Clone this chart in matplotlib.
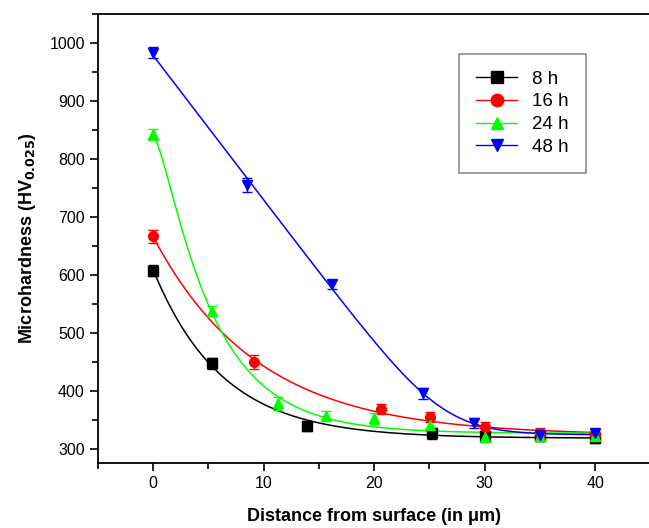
import numpy as np
import matplotlib
matplotlib.use('Agg')
import matplotlib.pyplot as plt
from matplotlib.ticker import MultipleLocator

plt.rcParams['font.family'] = ['Liberation Sans', 'DejaVu Sans']

# data
x_8h = [0, 5.3, 13.9, 25.2, 30, 35, 40]
y_8h = [608, 448, 340, 327, 322, 322, 320]
e_8h = [9, 10, 8, 10, 8, 8, 10]

x_16h = [0, 9.1, 20.6, 25.1, 30, 35, 40]
y_16h = [667, 450, 369, 355, 338, 327, 325]
e_16h = [11, 12, 9, 9, 9, 9, 8]

x_24h = [0, 5.3, 11.3, 15.6, 20, 25.1, 30, 35, 40]
y_24h = [843, 538, 379, 358, 353, 341, 321, 323, 322]
e_24h = [9, 8, 11, 8, 10, 9, 6, 6, 6]

x_48h = [0, 8.5, 16.2, 24.4, 29, 35, 40]
y_48h = [984, 755, 584, 396, 345, 324, 327]
e_48h = [9, 12, 8, 10, 9, 9, 8]

labels = ['8 h', '16 h', '24 h', '48 h']
colors = ['#000000', '#ff0000', '#00ff00', '#0000ff']
markers = ['s', 'o', '^', 'v']


def fit_exp(x, y, n=1):
    # y = a + sum b_k*exp(-x/t_k), grid search over the decay constants
    x = np.asarray(x, float); y = np.asarray(y, float)
    ts = np.linspace(1, 40, 157)
    grids = [(t,) for t in ts] if n == 1 else \
        [(t1, t2) for t1 in ts for t2 in ts if t2 > t1 * 1.5]
    best = None
    for tt in grids:
        A = np.column_stack([np.ones_like(x)] + [np.exp(-x / t) for t in tt])
        c, *_ = np.linalg.lstsq(A, y, rcond=None)
        r = np.sum((A @ c - y) ** 2)
        if best is None or r < best[0]:
            best = (r, tt, c)
    _, tt, c = best
    return lambda xx: c[0] + sum(c[k + 1] * np.exp(-xx / t) for k, t in enumerate(tt))


def fit_knee(x, y):
    # smoothed hockey stick: y = a + b*d*log(1+exp((x0-x)/d))
    x = np.asarray(x, float); y = np.asarray(y, float)
    best = None
    for x0 in np.linspace(15, 40, 101):
        for d in np.linspace(1, 10, 46):
            s = d * np.log1p(np.exp((x0 - x) / d))
            A = np.column_stack([np.ones_like(x), s])
            c, *_ = np.linalg.lstsq(A, y, rcond=None)
            r = np.sum((A @ c - y) ** 2)
            if best is None or r < best[0]:
                best = (r, x0, d, c)
    _, x0, d, c = best
    return lambda xx: c[0] + c[1] * d * np.log1p(np.exp((x0 - xx) / d))


fig = plt.figure(figsize=(6.49, 5.28), dpi=100)
ax = fig.add_axes([0.151, 0.123, 0.851, 0.850])

series = [(x_8h, y_8h, e_8h), (x_16h, y_16h, e_16h),
          (x_24h, y_24h, e_24h), (x_48h, y_48h, e_48h)]
xs = np.linspace(0, 40, 400)
for i, (x, y, e) in enumerate(series):
    if i == 3:
        f = fit_knee(x, y)
    elif i == 2:
        f = fit_exp(x, y, 2)
    else:
        f = fit_exp(x, y)
    ax.plot(xs, f(xs), color=colors[i], lw=1.1, zorder=2)
    ax.errorbar(x, y, yerr=e, fmt=markers[i], color=colors[i], ms=7,
                capsize=3.5, elinewidth=1, capthick=1, zorder=3)
    ax.plot([], [], color=colors[i], marker=markers[i], ms=9, lw=1,
            label=labels[i])

ax.set_xlim(-5, 45)
ax.set_ylim(276, 1050)
ax.xaxis.set_major_locator(MultipleLocator(10))
ax.xaxis.set_minor_locator(MultipleLocator(5))
ax.yaxis.set_major_locator(MultipleLocator(100))
ax.yaxis.set_minor_locator(MultipleLocator(50))
ax.tick_params(which='major', direction='out', length=6, width=1.2,
               labelsize=11.5, top=False, right=False)
ax.tick_params(which='minor', direction='out', length=4, width=1.2,
               top=False, right=False)
ax.spines['right'].set_visible(False)
for s in ['left', 'bottom', 'top']:
    ax.spines[s].set_linewidth(1.3)

ax.set_xlabel('Distance from surface (in \u03bcm)', fontsize=13,
              fontweight='bold', labelpad=12)
ax.set_ylabel('Microhardness (HV$_{\\mathbf{0.025}}$)', fontsize=13,
              fontweight='bold', labelpad=8)

leg = ax.legend(loc='upper left', bbox_to_anchor=(0.637, 0.933),
                fontsize=13.5, frameon=True, fancybox=False,
                edgecolor='#707070', handlelength=2.2, labelspacing=0.3,
                borderpad=0.9)
leg.get_frame().set_linewidth(1.2)

fig.savefig('out.png', dpi=100)
